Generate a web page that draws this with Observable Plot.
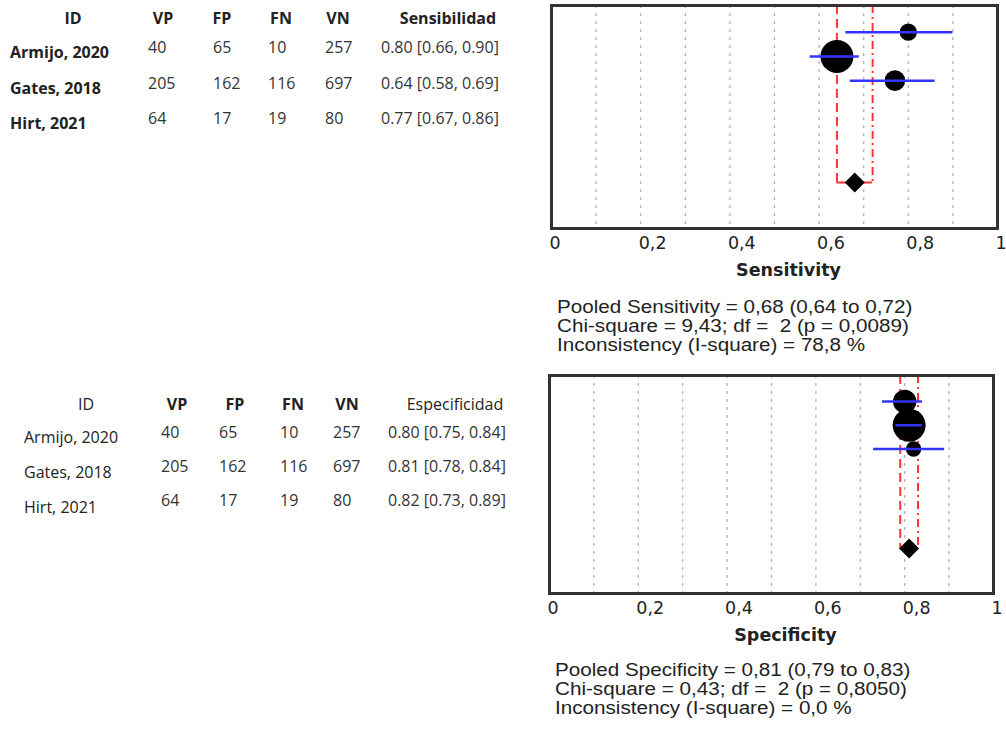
<!DOCTYPE html>
<html>
<head>
<meta charset="utf-8">
<script src="https://cdn.jsdelivr.net/npm/d3@7"></script>
<script src="https://cdn.jsdelivr.net/npm/@observablehq/plot@0.6"></script>
<style>
  body { margin: 0; background: #fff; }
  #page { position: relative; width: 1006px; height: 731px; overflow: hidden; background: #fff; }
  .t { position: absolute; font-family: "Open Sans", sans-serif; font-size: 16px; line-height: 20px; color: #222; white-space: pre; }
  .num { color: #333; }
  .b { font-weight: bold; }
  .c { transform: translateX(-50%); }
  .stat { position: absolute; font-family: "Liberation Sans", Arial, sans-serif; font-size: 17.5px; line-height: 19px; color: #222; white-space: pre; transform: scaleX(1.18); transform-origin: 0 50%; }
  .panel { position: absolute; }
</style>
</head>
<body>
<div id="page"></div>
<script>
// Studies and 2x2 counts
const studies = ["Armijo, 2020", "Gates, 2018", "Hirt, 2021"];
const vp = [40, 205, 64];
const fp = [65, 162, 17];
const fn = [10, 116, 19];
const vn = [257, 697, 80];

// Per-study estimates with 95% CI
const sensitivity = [0.80, 0.64, 0.77];
const sensitivityLow = [0.66, 0.58, 0.67];
const sensitivityHigh = [0.90, 0.69, 0.86];
const specificity = [0.80, 0.81, 0.82];
const specificityLow = [0.75, 0.78, 0.73];
const specificityHigh = [0.84, 0.84, 0.89];

// Pooled estimate, lower, upper
const pooledSensitivity = [0.68, 0.64, 0.72];
const pooledSpecificity = [0.81, 0.79, 0.83];

// Heterogeneity
const sensitivityChi = ["9,43", 2, "0,0089"];
const specificityChi = ["0,43", 2, "0,8050"];
const sensitivityI2 = "78,8";
const specificityI2 = "0,0";

// Axis ticks and reference grid
const xTicks = [0, 0.2, 0.4, 0.6, 0.8, 1];
const gridTicks = [0.1, 0.2, 0.3, 0.4, 0.5, 0.6, 0.7, 0.8, 0.9];

const page = document.getElementById("page");
const comma = v => String(v).replace(".", ",");
const ci = (e, l, h) => `${e.toFixed(2)} [${l.toFixed(2)}, ${h.toFixed(2)}]`;

function put(text, x, y, cls) {
  const el = document.createElement("div");
  el.className = "t " + cls;
  el.textContent = text;
  el.style.left = x + "px";
  el.style.top = (y - 10) + "px";
  page.appendChild(el);
}

function table(cfg) {
  const heads = ["ID", "VP", "FP", "FN", "VN", cfg.title];
  heads.forEach((h, j) => put(h, cfg.headX[j], cfg.headY, "c" + (cfg.headBold[j] ? " b" : "")));
  studies.forEach((s, i) => {
    put(s, cfg.idX, cfg.idY + i * cfg.step, cfg.idBold ? "b" : "");
    const yN = cfg.numY + i * cfg.numStep;
    [vp[i], fp[i], fn[i], vn[i]].forEach((v, j) => put(String(v), cfg.numX[j], yN, "num"));
    put(ci(cfg.est[i], cfg.lo[i], cfg.hi[i]), cfg.numX[4], yN, "num");
  });
}

table({
  title: "Sensibilidad", est: sensitivity, lo: sensitivityLow, hi: sensitivityHigh,
  headX: [73, 163, 222, 281, 338, 448], headY: 18, headBold: [1, 1, 1, 1, 1, 1],
  idX: 10, idY: 52, step: 35.5, idBold: true,
  numX: [148, 213, 268, 325, 381], numY: 47, numStep: 35.5
});

table({
  title: "Especificidad", est: specificity, lo: specificityLow, hi: specificityHigh,
  headX: [86, 177, 235, 293, 347, 455], headY: 404, headBold: [0, 1, 1, 1, 1, 0],
  idX: 24, idY: 437, step: 35, idBold: false,
  numX: [161, 219, 280, 333, 388], numY: 432, numStep: 34
});

function forest(cfg) {
  const rows = studies.map((s, i) => ({study: s, row: i + 1, est: cfg.est[i], lo: cfg.lo[i], hi: cfg.hi[i], w: cfg.weight[i]}));
  const pooledRow = 7.2;
  const red = "#ff3535";
  const chart = Plot.plot({
    width: 466,
    height: cfg.height,
    marginLeft: cfg.mL,
    marginRight: cfg.mR,
    marginTop: 5,
    marginBottom: 62,
    x: {domain: [0, 1]},
    y: {domain: [-0.1, 9.1], reverse: true, axis: null},
    r: {type: "pow", exponent: 0.35, domain: [0, d3.max(cfg.weight)], range: [0, 16.5]},
    style: {fontFamily: "'DejaVu Sans', sans-serif", fontSize: "17.5px", color: "#222", background: "transparent", overflow: "visible"},
    marks: [
      Plot.ruleX(gridTicks, {stroke: "#b3b3b3", strokeWidth: 1.3, strokeDasharray: "3,5"}),
      Plot.ruleX([cfg.pooled[1]], {y1: -0.1, y2: pooledRow, stroke: red, strokeWidth: 2, strokeDasharray: "9,5"}),
      Plot.ruleX([cfg.pooled[2]], {y1: -0.1, y2: pooledRow, stroke: red, strokeWidth: 2, strokeDasharray: "8,4,2,4"}),
      Plot.ruleY([pooledRow], {x1: cfg.pooled[1], x2: cfg.pooled[2], stroke: red, strokeWidth: 2}),
      Plot.dot(rows, {x: "est", y: "row", r: "w", fill: "black"}),
      Plot.ruleY(rows, {y: "row", x1: "lo", x2: "hi", stroke: "#3434ff", strokeWidth: 2.5}),
      Plot.dot([cfg.pooled], {x: d => d[0], y: pooledRow, symbol: "diamond2", r: 9, fill: "black"}),
      Plot.frame({stroke: "#333", strokeWidth: 3}),
      Plot.axisX(xTicks, {tickSize: 0, tickPadding: 8, textAnchor: "start", dx: -2, tickFormat: comma, label: null}),
      Plot.text([cfg.label], {frameAnchor: "bottom", dy: 42, dx: 14, lineAnchor: "middle", fontWeight: "bold"})
    ]
  });
  const wrap = document.createElement("div");
  wrap.className = "panel";
  wrap.style.left = "540px";
  wrap.style.top = cfg.top + "px";
  wrap.appendChild(chart);
  page.appendChild(wrap);

  cfg.stats.forEach((line, i) => {
    const el = document.createElement("div");
    el.className = "stat";
    el.textContent = line;
    el.style.left = cfg.statX + "px";
    el.style.top = (cfg.statY + i * 19 - 9.5) + "px";
    page.appendChild(el);
  });
}

forest({
  est: sensitivity, lo: sensitivityLow, hi: sensitivityHigh,
  weight: vp.map((v, i) => v + fn[i]),
  pooled: pooledSensitivity, label: "Sensitivity",
  top: 0, height: 290, mL: 11, mR: 9,
  statX: 557, statY: 307,
  stats: [
    `Pooled Sensitivity = ${comma(pooledSensitivity[0])} (${comma(pooledSensitivity[1])} to ${comma(pooledSensitivity[2])})`,
    `Chi-square = ${sensitivityChi[0]}; df =  ${sensitivityChi[1]} (p = ${sensitivityChi[2]})`,
    `Inconsistency (I-square) = ${sensitivityI2} %`
  ]
});

forest({
  est: specificity, lo: specificityLow, hi: specificityHigh,
  weight: fp.map((v, i) => v + vn[i]),
  pooled: pooledSpecificity, label: "Specificity",
  top: 370, height: 285, mL: 9, mR: 13,
  statX: 555, statY: 670,
  stats: [
    `Pooled Specificity = ${comma(pooledSpecificity[0])} (${comma(pooledSpecificity[1])} to ${comma(pooledSpecificity[2])})`,
    `Chi-square = ${specificityChi[0]}; df =  ${specificityChi[1]} (p = ${specificityChi[2]})`,
    `Inconsistency (I-square) = ${specificityI2} %`
  ]
});
</script>
</body>
</html>
